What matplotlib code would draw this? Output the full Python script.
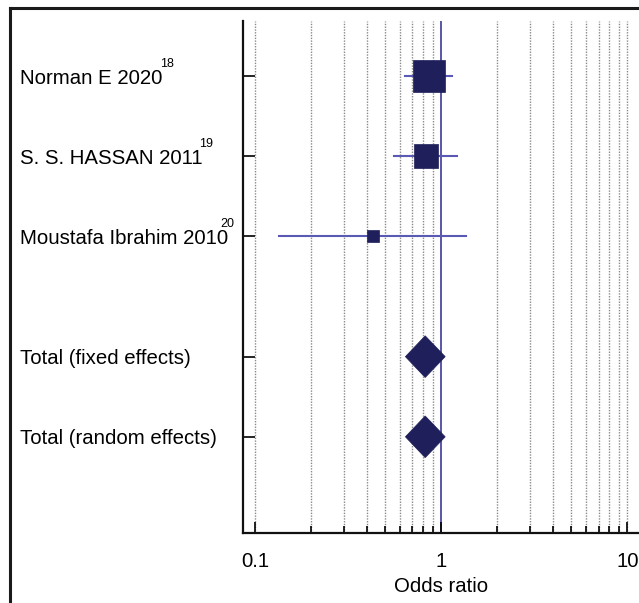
import numpy as np
import matplotlib
matplotlib.use("Agg")
import matplotlib.pyplot as plt
from matplotlib.lines import Line2D
from matplotlib.ticker import NullFormatter, FixedLocator
import matplotlib.transforms as mtransforms

plt.rcParams['font.family'] = ['Liberation Sans', 'DejaVu Sans']

# studies
studies = ["Norman E 2020", "S. S. HASSAN 2011", "Moustafa Ibrahim 2010"]
refs = ["18", "19", "20"]
odds = [0.855, 0.826, 0.43]
ci_lo = [0.635, 0.556, 0.135]
ci_hi = [1.14, 1.22, 1.36]
weights = [58.5, 33.3, 8.2]

# pooled estimates
totals = ["Total (fixed effects)", "Total (random effects)"]
tot_odds = [0.82, 0.82]
tot_lo = [0.642, 0.642]
tot_hi = [1.05, 1.05]

xticks = [0.1, 1, 10]
xticklabels = ["0.1", "1", "10"]

# superscript horizontal offsets (points) so they sit like in the original
sup_dx = [-1.5, -2.5, -5.5]

dark = "#1f1f5b"
ci_col = "#5a5ab4"

fig = plt.figure(figsize=(6.39, 6.03), dpi=100)
W, H = 639, 603
ax = fig.add_axes([243 / W, 1 - 533 / H, 1 - 243 / W, (533 - 21) / H])

# row positions: studies, a gap, then totals
ys = list(np.arange(1, len(studies) + 1))
ys_tot = [len(studies) + 1.5 + i for i in range(len(totals))]

ax.set_xscale("log")
ax.set_xlim(0.0862, 11.53)
ax.set_ylim(6.7, 0.3125)

# dotted grid on every decade step except 1
grid_x = [m * 10.0 ** e for e in (-1, 0) for m in range(1, 10)] + [10]
for gx in grid_x:
    if gx == 1:
        continue
    ax.axvline(gx, color="#8a8a8a", lw=1.0, ls=(0, (1, 1)), zorder=0)
ax.axvline(1, color="#4a4aa0", lw=1.3, zorder=1)

# studies
for i in range(len(studies)):
    ax.plot([ci_lo[i], ci_hi[i]], [ys[i], ys[i]], color=ci_col, lw=1.5, zorder=2)
    side = 4.18 * np.sqrt(weights[i]) * 72 / 100
    ax.plot(odds[i], ys[i], marker="s", markersize=side, color=dark,
            markeredgecolor=dark, markeredgewidth=0.5, zorder=3)

# diamonds
half_h = 0.26
for i in range(len(totals)):
    y = ys_tot[i]
    xs = [tot_lo[i], tot_odds[i], tot_hi[i], tot_odds[i]]
    yy = [y, y - half_h, y, y + half_h]
    ax.fill(xs, yy, color=dark, zorder=3, lw=0.5)

for s in ["top", "right"]:
    ax.spines[s].set_visible(False)
for s in ["left", "bottom"]:
    ax.spines[s].set_linewidth(1.6)
    ax.spines[s].set_color("#111111")

ax.xaxis.set_major_locator(FixedLocator(xticks))
ax.set_xticklabels(xticklabels)
ax.xaxis.set_minor_locator(FixedLocator([g for g in grid_x if g not in xticks]))
ax.xaxis.set_minor_formatter(NullFormatter())
ax.tick_params(axis="x", which="major", direction="in", length=8, width=1.2,
               labelsize=14.7, pad=14)
ax.tick_params(axis="x", which="minor", direction="in", length=5, width=1.2)
ax.set_yticks(ys + ys_tot)
ax.set_yticklabels([])
ax.tick_params(axis="y", which="both", direction="in", length=8.6, width=1.2)
ax.yaxis.set_minor_locator(FixedLocator([]))
ax.set_xlabel("Odds ratio", fontsize=14.7, labelpad=4)

# row labels at the left of the figure
trans = mtransforms.blended_transform_factory(fig.transFigure, ax.transData)
for i in range(len(studies)):
    t = ax.text(20 / W, ys[i], studies[i], transform=trans, fontsize=14.7,
                ha="left", va="center_baseline")
    ax.annotate(refs[i], xy=(1, 1), xycoords=t, xytext=(sup_dx[i], -1),
                textcoords="offset points", fontsize=9, ha="left", va="bottom")
for i in range(len(totals)):
    ax.text(20 / W, ys_tot[i], totals[i], transform=trans, fontsize=14.7,
            ha="left", va="center_baseline")

# frame around the picture (cut off at right and bottom)
fig.add_artist(Line2D([10 / W, 10 / W], [1 - 8 / H, -0.1], transform=fig.transFigure,
                      color="#1a1a1a", lw=2.2))
fig.add_artist(Line2D([10 / W, 1.1], [1 - 8 / H, 1 - 8 / H], transform=fig.transFigure,
                      color="#1a1a1a", lw=2.2))

fig.savefig("out.png", dpi=100)
